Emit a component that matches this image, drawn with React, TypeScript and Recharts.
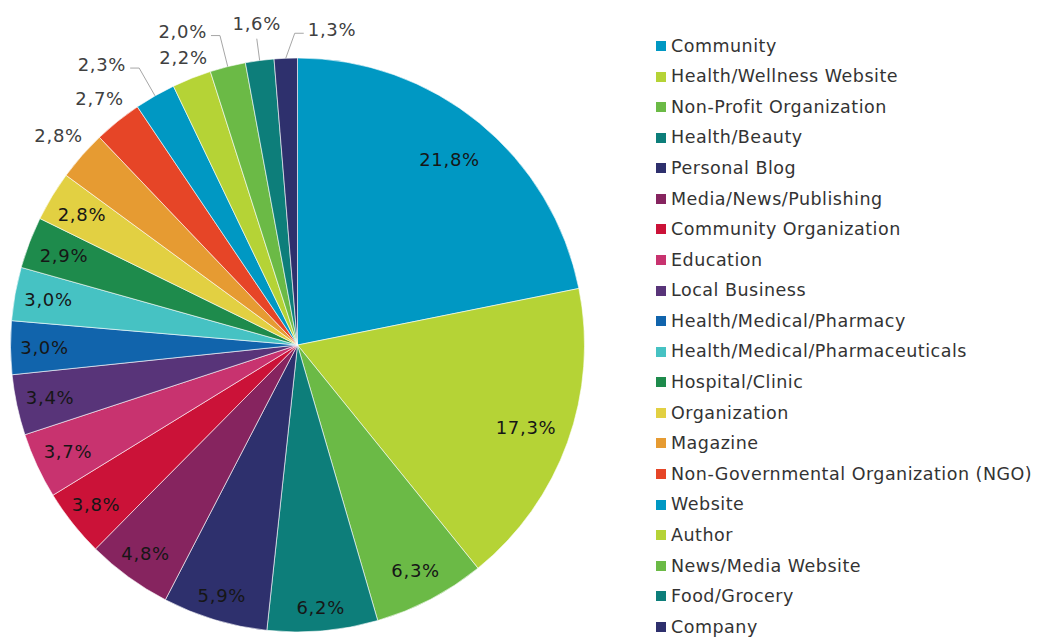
import React from 'react';
import { PieChart, Pie, Cell } from 'recharts';

const categories = [
  'Community',
  'Health/Wellness Website',
  'Non-Profit Organization',
  'Health/Beauty',
  'Personal Blog',
  'Media/News/Publishing',
  'Community Organization',
  'Education',
  'Local Business',
  'Health/Medical/Pharmacy',
  'Health/Medical/Pharmaceuticals',
  'Hospital/Clinic',
  'Organization',
  'Magazine',
  'Non-Governmental Organization (NGO)',
  'Website',
  'Author',
  'News/Media Website',
  'Food/Grocery',
  'Company',
];

const shares = [21.8, 17.3, 6.3, 6.2, 5.9, 4.8, 3.8, 3.7, 3.4, 3.0, 3.0, 2.9, 2.8, 2.8, 2.7, 2.3, 2.2, 2.0, 1.6, 1.3];

const colors = [
  '#0098C3', '#B5D336', '#6BBA46', '#0D7E7A', '#2E306D',
  '#86245F', '#CB1238', '#C8336F', '#583479', '#1164AC',
  '#46C2C3', '#1E8B4C', '#E2D042', '#E69B32', '#E64527',
  '#0098C3', '#B5D336', '#6BBA46', '#0D7E7A', '#2E306D',
];

// where each slice label goes (inside, outside, or outside with a leader line)
type LabelSpec = { mode: 'in' | 'out' | 'leader' | 'up'; r: number; side?: number; shift?: number };
const labelLayout: LabelSpec[] = [
  { mode: 'in', r: 240 }, { mode: 'in', r: 243 }, { mode: 'in', r: 255 }, { mode: 'in', r: 264 },
  { mode: 'in', r: 262 }, { mode: 'in', r: 258 }, { mode: 'in', r: 257 }, { mode: 'in', r: 253 },
  { mode: 'in', r: 253 }, { mode: 'in', r: 253 }, { mode: 'in', r: 253 }, { mode: 'in', r: 250 },
  { mode: 'in', r: 252 },
  { mode: 'out', r: 318 }, { mode: 'out', r: 316 },
  { mode: 'leader', r: 319, side: -1 },
  { mode: 'out', r: 309 },
  { mode: 'leader', r: 319, side: -1 },
  { mode: 'up', r: 309 },
  { mode: 'leader', r: 312, side: 1, shift: 10 },
];

const data = categories.map((name, i) => ({ name, value: shares[i] }));

const RAD = Math.PI / 180;
const FONT = '"DejaVu Sans", Verdana, sans-serif';

const renderLabel = (props: any) => {
  const { cx, cy, midAngle, outerRadius, index, value } = props;
  const spec = labelLayout[index];
  const text = value.toFixed(1).replace('.', ',') + '%';
  const pt = (r: number) => ({
    x: cx + r * Math.cos(-midAngle * RAD),
    y: cy + r * Math.sin(-midAngle * RAD),
  });
  const textProps = {
    fontSize: 18,
    fontFamily: FONT,
    letterSpacing: 0.7,
    fill: spec.mode === 'in' ? '#161616' : '#404040',
    dominantBaseline: 'central' as const,
  };

  if (spec.mode === 'in' || spec.mode === 'out') {
    const p = pt(spec.r);
    return (
      <text key={`l${index}`} x={p.x} y={p.y} textAnchor="middle" {...textProps}>
        {text}
      </text>
    );
  }
  const a = pt(outerRadius);
  const e = pt(spec.r);
  const ex = e.x + (spec.shift || 0);
  if (spec.mode === 'up') {
    return (
      <g key={`l${index}`}>
        <polyline points={`${a.x},${a.y} ${ex},${e.y}`} fill="none" stroke="#A6A6A6" strokeWidth={1} />
        <text x={ex} y={e.y - 15} textAnchor="middle" {...textProps}>{text}</text>
      </g>
    );
  }
  const side = spec.side || -1;
  const hx = ex + side * 9;
  return (
    <g key={`l${index}`}>
      <polyline points={`${a.x},${a.y} ${ex},${e.y} ${hx},${e.y}`} fill="none" stroke="#A6A6A6" strokeWidth={1} />
      <text x={hx + side * 4} y={e.y - 4} textAnchor={side < 0 ? 'end' : 'start'} {...textProps}>{text}</text>
    </g>
  );
};

const App = () => {
  return (
    <div style={{ position: 'absolute', left: 0, top: 0, width: 1037, height: 637, background: '#fff' }}>
      <PieChart width={1037} height={637} margin={{ top: 0, right: 0, bottom: 0, left: 0 }}>
        <Pie
          data={data}
          dataKey="value"
          nameKey="name"
          cx={297.5}
          cy={345}
          outerRadius={287}
          startAngle={90}
          endAngle={-270}
          stroke="#ffffff"
          strokeWidth={0.6}
          label={renderLabel}
          labelLine={false}
          isAnimationActive={false}
        >
          {data.map((d, i) => (
            <Cell key={d.name} fill={colors[i]} />
          ))}
        </Pie>
      </PieChart>
      <div style={{ position: 'absolute', left: 656, top: 30.7, fontFamily: FONT, fontSize: 17.5, letterSpacing: 0.5, color: '#333333' }}>
        {categories.map((c, i) => (
          <div key={c} style={{ height: 30.58, lineHeight: '30.58px', whiteSpace: 'nowrap', display: 'flex', alignItems: 'center' }}>
            <span style={{ display: 'inline-block', width: 10, height: 10, background: colors[i], marginRight: 5 }} />
            <span>{c}</span>
          </div>
        ))}
      </div>
    </div>
  );
};

export default App;
